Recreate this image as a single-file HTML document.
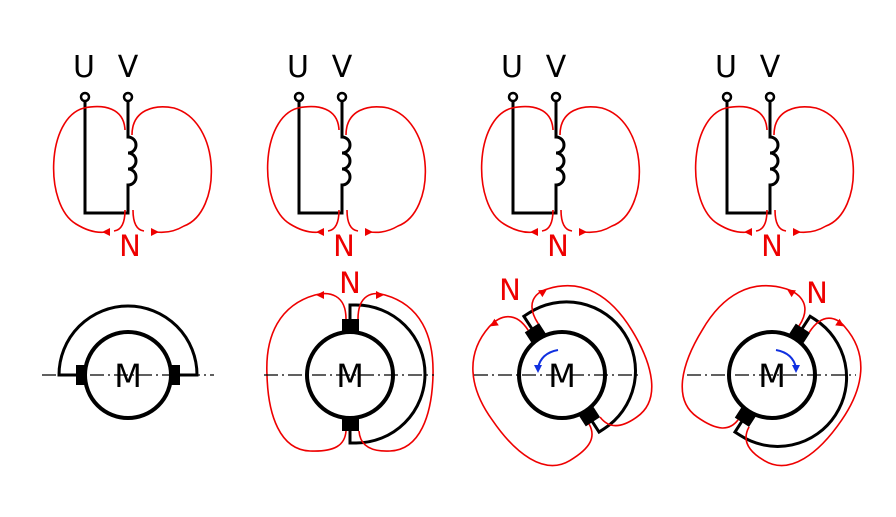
<!DOCTYPE html>
<html><head><style>html,body{margin:0;padding:0;background:#fff}</style></head>
<body>
<svg width="896" height="512" viewBox="0 0 896 512" xmlns="http://www.w3.org/2000/svg" font-family="'DejaVu Sans','Liberation Sans',sans-serif">
<defs>
<g id="top">
  <text x="0" y="77" font-size="30" text-anchor="middle" fill="#000">U</text>
  <text x="44" y="77" font-size="30" text-anchor="middle" fill="#000">V</text>
  <g fill="none" stroke="#000" stroke-width="3">
    <path d="M1,101 V213 H44 V185 a8,8 0 0 0 0,-16 a8,8 0 0 0 0,-16 a8,8 0 0 0 0,-16 V101"/>
    <circle cx="1" cy="97" r="4" stroke-width="2.5" fill="#fff"/>
    <circle cx="44" cy="97" r="4" stroke-width="2.5" fill="#fff"/>
  </g>
  <g fill="none" stroke="#e00" stroke-width="1.6">
    <path d="M41,130 C40,108 20,104 0,108 C-38,118 -40,205 -8,224 C5,232 15,233 22,232"/>
    <path d="M48,135 C48,110 70,104 90,108 C138,122 138,212 100,226 C90,232 80,233 72,232"/>
    <path d="M41,210 C41,222 38,230 30,231"/>
    <path d="M49,210 C49,222 52,230 60,231"/>
  </g>
  <path d="M18,232 l8,-4 v8 z" fill="#e00"/>
  <path d="M75,232 l-8,-4 v8 z" fill="#e00"/>
  <text x="46" y="256" font-size="29" text-anchor="middle" fill="#e00">N</text>
</g>
<g id="rot">
  <path d="M0,-45 V-70 H6 A68,68 0 0 1 6,68 H0 V45" fill="none" stroke="#000" stroke-width="3"/>
  <rect x="-8" y="-56" width="17" height="12" fill="#000"/>
  <rect x="-8" y="44" width="17" height="12" fill="#000"/>
  <g fill="none" stroke="#e00" stroke-width="1.6">
    <path d="M-4,-56 C-4,-80 -20,-84 -35,-80 C-70,-70 -85,-40 -83,0 C-82,40 -70,75 -40,76 C-15,77 -5,70 -4,56"/>
    <path d="M8,-56 C8,-80 22,-84 35,-80 C70,-70 84,-40 83,0 C82,40 70,75 40,76 C20,77 10,70 9,56"/>
  </g>
  <path d="M-34,-80 l8,-4 v8 z" fill="#e00"/>
  <path d="M34,-80 l-8,-4 v8 z" fill="#e00"/>
</g>
<g id="mot">
  <circle cx="0" cy="0" r="43" fill="#fff" stroke="#000" stroke-width="4"/>
</g>
</defs>

<use href="#top" x="84" y="0"/>
<use href="#top" x="298" y="0"/>
<use href="#top" x="512" y="0"/>
<use href="#top" x="726" y="0"/>

<g transform="translate(128,375)">
  <path d="M-45,0 H-69 A69,69 0 0 1 69,0 H45" fill="none" stroke="#000" stroke-width="3"/>
  <circle r="43" fill="#fff" stroke="#000" stroke-width="4"/>
  <rect x="-52" y="-10" width="10" height="20" fill="#000"/>
  <rect x="42" y="-10" width="10" height="20" fill="#000"/>
</g>
<g transform="translate(350,375)"><use href="#rot"/><use href="#mot"/></g>
<g transform="translate(562,375) rotate(-33)"><use href="#rot"/></g>
<g transform="translate(562,375)"><use href="#mot"/></g>
<g transform="translate(772,375) rotate(33)"><use href="#rot"/></g>
<g transform="translate(772,375)"><use href="#mot"/></g>

<g stroke="#000" stroke-width="1.3" stroke-dasharray="14,4,2,4" fill="none">
  <line x1="42" y1="375" x2="214" y2="375"/>
  <line x1="264" y1="375" x2="434" y2="375"/>
  <line x1="474" y1="375" x2="642" y2="375"/>
  <line x1="687" y1="375" x2="856" y2="375"/>
</g>

<g font-size="32" text-anchor="middle" fill="#000">
  <text x="128" y="387">M</text>
  <text x="350" y="387">M</text>
  <text x="562" y="387">M</text>
  <text x="772" y="387">M</text>
</g>
<g font-size="29" text-anchor="middle" fill="#e00">
  <text x="350" y="293">N</text>
  <text x="510" y="300">N</text>
  <text x="817" y="303">N</text>
</g>
<path d="M558,350 C547,352 540,358 538,368" fill="none" stroke="#1030e0" stroke-width="2"/>
<path d="M538,373 l-4,-8 h8 z" fill="#1030e0"/>
<path d="M776,350 C787,352 794,358 796,368" fill="none" stroke="#1030e0" stroke-width="2"/>
<path d="M796,373 l-4,-8 h8 z" fill="#1030e0"/>
</svg>
</body></html>
